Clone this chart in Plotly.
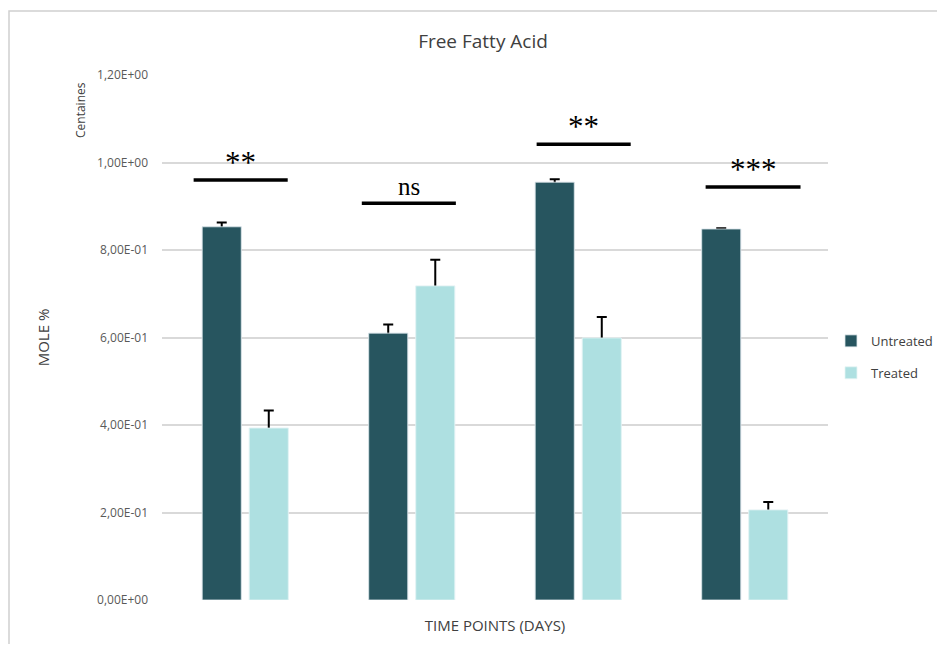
import plotly.graph_objects as go

# ---- data ----
time_points = [1, 2, 3, 4]
untreated = [0.853, 0.610, 0.955, 0.848]
untreated_err = [0.010, 0.020, 0.007, 0.002]
treated = [0.393, 0.718, 0.599, 0.206]
treated_err = [0.040, 0.060, 0.048, 0.018]
sig_labels = ["**", "ns", "**", "***"]
sig_levels = [0.96, 0.907, 1.042, 0.944]
y_tickvals = [0, 0.2, 0.4, 0.6, 0.8, 1.0, 1.2]
y_ticktext = ["0,00E+00", "2,00E-01", "4,00E-01", "6,00E-01", "8,00E-01", "1,00E+00", "1,20E+00"]

DARK = "#27555f"
LIGHT = "#aee0e1"
FONT = "Open Sans, Lato, sans-serif"

# page has an 8px body margin: keep the figure inside the window (no scrollbars)
W, H = 929, 636
L, R, T, B = 154, 109, 67, 44
PW, PH = W - L - R, H - T - B

fig = go.Figure()
# error-bar carriers (drawn first, lower half is hidden by the visible bars)
for vals, errs, grp in [(untreated, untreated_err, "u"), (treated, treated_err, "t")]:
    fig.add_trace(go.Bar(
        x=time_points, y=vals, offsetgroup=grp, showlegend=False, hoverinfo="skip",
        marker=dict(color="rgba(0,0,0,0)"),
        error_y=dict(type="data", array=errs, color="black", thickness=2, width=5),
    ))
fig.add_trace(go.Bar(
    x=time_points, y=untreated, name="Untreated", legendgroup="u", offsetgroup="u",
    marker=dict(color=DARK, line=dict(color="#dfe9ec", width=0.8)),
))
fig.add_trace(go.Bar(
    x=time_points, y=treated, name="Treated", legendgroup="t", offsetgroup="t",
    marker=dict(color=LIGHT, line=dict(color="#e6f5f5", width=0.8)),
))

# significance bars and labels
offsets = [(-0.31, 0.255), (-0.30, 0.265), (-0.25, 0.315), (-0.235, 0.335)]
for xp, lab, lev, (a, b) in zip(time_points, sig_labels, sig_levels, offsets):
    fig.add_shape(type="line", xref="x", yref="y", x0=xp + a, x1=xp + b, y0=lev, y1=lev,
                  line=dict(color="black", width=3.5))
    is_ns = lab == "ns"
    fig.add_annotation(x=xp + (a + b) / 2, y=lev, xref="x", yref="y", text=lab,
                       showarrow=False, yanchor="bottom", yshift=-2 if not is_ns else 1,
                       font=dict(family="Liberation Serif, DejaVu Serif, serif",
                                 size=31 if not is_ns else 25, color="black"))

# "Centaines" display-unit label
fig.add_annotation(x=(72 - L) / PW, y=(H - B - 102) / PH, xref="paper", yref="paper",
                   xanchor="center", yanchor="middle",
                   text="Centaines", showarrow=False, textangle=-90,
                   font=dict(family=FONT, size=12, color="#404040"))

# outer border
fig.add_shape(type="rect", xref="paper", yref="paper",
              x0=(1 - L) / PW, x1=1.3, y0=-0.3, y1=(H - B - 3) / PH,
              line=dict(color="#d0d0d0", width=1.5), fillcolor="rgba(0,0,0,0)", layer="below")

fig.update_layout(
    width=W, height=H,
    margin=dict(l=L, r=R, t=T, b=B, autoexpand=False),
    paper_bgcolor="white", plot_bgcolor="white",
    barmode="group", bargap=0.435, bargroupgap=0.17,
    title=dict(text="Free Fatty Acid", x=475 / W, xanchor="center", y=1 - 33 / H, yanchor="middle",
               font=dict(family=FONT, size=19, color="#404040")),
    font=dict(family=FONT, color="#595959"),
    legend=dict(x=1.0045, xanchor="left", y=0.463, yanchor="middle", tracegroupgap=12,
                font=dict(family=FONT, size=13, color="#404040"), bgcolor="rgba(0,0,0,0)"),
    showlegend=True,
)
fig.update_xaxes(range=[0.5, 4.5], showticklabels=False, showgrid=False, zeroline=False,
                 showline=False, ticks="",
                 title=dict(text="TIME POINTS (DAYS)", standoff=20,
                            font=dict(family=FONT, size=15, color="#404040")))
fig.update_yaxes(range=[0, 1.2], tickvals=y_tickvals, ticktext=y_ticktext,
                 showgrid=True, gridcolor="#d9d9d9", gridwidth=1.5, zeroline=False,
                 showline=False, ticks="", ticklabelstandoff=13,
                 tickfont=dict(family=FONT, size=12, color="#595959"),
                 title=dict(text="MOLE %", standoff=43,
                            font=dict(family=FONT, size=15, color="#404040")))

fig.write_html("out.html")
